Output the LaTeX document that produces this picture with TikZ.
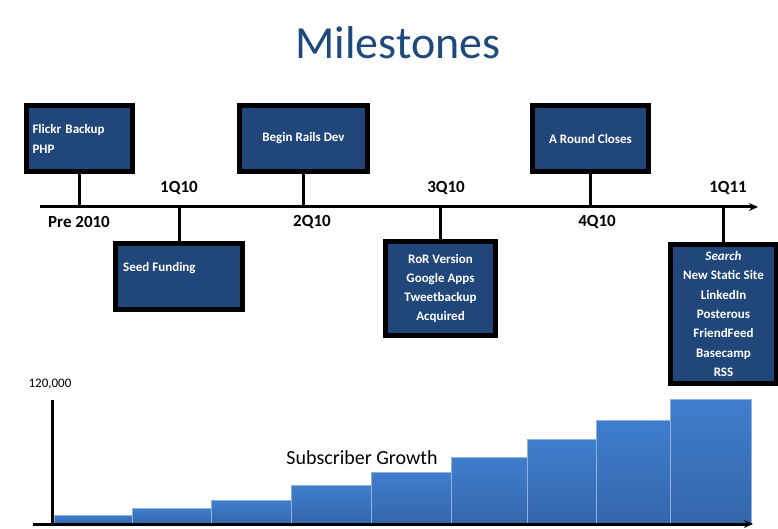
\documentclass[tikz,border=0pt]{standalone}
\usepackage{fontspec}
\setmainfont{Carlito}
\usetikzlibrary{arrows.meta}
\definecolor{navy}{RGB}{33,70,122}
\definecolor{titleblue}{RGB}{31,73,125}
\definecolor{bartop}{RGB}{64,126,204}
\definecolor{barbot}{RGB}{52,102,172}
\tikzset{
  mbox/.style={draw=black, line width=5pt, fill=navy, inner sep=0pt, text=white,
    font=\fontsize{13}{19.3}\selectfont\bfseries},
  stem/.style={line width=3pt},
  axisline/.style={line width=3pt},
  axisarrow/.style={line width=3pt, -{Stealth[length=9pt,width=8pt]}},
  qlabel/.style={font=\fontsize{17}{20}\selectfont\bfseries, inner sep=0pt},
  bar/.style={top color=bartop, bottom color=barbot, draw=bartop!60!white, line width=0.5pt}
}
\begin{document}
\begin{tikzpicture}[x=1pt,y=-1pt]
\useasboundingbox (0,0) rectangle (778,529);
\fill[white] (0,0) rectangle (778,529);

% title
\node[text=titleblue, font=\fontsize{46}{50}\selectfont, inner sep=0pt] (title) at (398,43) {Milestones};

% timeline
\coordinate (tl0) at (40,207);
\coordinate (tl1) at (758,207);
\draw[axisarrow] (tl0) -- (tl1);

% boxes above
\node[mbox, minimum width=106pt, minimum height=66pt, text width=94pt, inner xsep=6pt, align=left, font=\fontsize{13}{20}\selectfont\bfseries] (b1) at (79.5,138.5) {Flickr Backup\\PHP};
\node[mbox, minimum width=128pt, minimum height=66pt, align=center] (b2) at (303.5,138.5) {Begin Rails Dev};
\node[mbox, minimum width=116pt, minimum height=66pt, align=center] (b4) at (590.5,138.5) {A Round Closes};

% boxes below
\node[mbox, minimum width=127pt, minimum height=66pt] (b3) at (179,276.5) {};
\node[text=white, font=\fontsize{13}{16}\selectfont\bfseries, anchor=west, inner sep=0pt] (b3t) at (123,268) {Seed Funding};
\node[mbox, minimum width=110pt, minimum height=94pt, align=center] (b5) at (440.5,288.5) {RoR Version\\Google Apps\\Tweetbackup\\Acquired};
\node[mbox, minimum width=106pt, minimum height=139pt, align=center] (b6) at (723.5,314) {\textit{Search}\\New Static Site\\LinkedIn\\Posterous\\FriendFeed\\Basecamp\\RSS};

% stems
\draw[stem] (b1.south) -- (b1.south |- tl0);
\draw[stem] (b2.south) -- (b2.south |- tl0);
\draw[stem] (b4.south) -- (b4.south |- tl0);
\draw[stem] (b3.north) -- (b3.north |- tl0);
\draw[stem] (b5.north) -- (b5.north |- tl0);
\draw[stem] (b6.north) -- (b6.north |- tl0);

% quarter labels
\node[qlabel] (q0) at (79,222) {Pre 2010};
\node[qlabel] (q1) at (179,188) {1Q10};
\node[qlabel] (q2) at (312,222) {2Q10};
\node[qlabel] (q3) at (446,188) {3Q10};
\node[qlabel] (q4) at (597,222) {4Q10};
\node[qlabel] (q5) at (728,188) {1Q11};

% bars
\draw[bar] (54,515) rectangle (132,524);
\draw[bar] (132,508) rectangle (211,524);
\draw[bar] (211,500) rectangle (291,524);
\draw[bar] (291,485) rectangle (371,524);
\draw[bar] (371,472) rectangle (451,524);
\draw[bar] (451,457) rectangle (527,524);
\draw[bar] (527,439) rectangle (596,524);
\draw[bar] (596,420) rectangle (670,524);
\draw[bar] (670,399) rectangle (751,524);

% chart axes
\coordinate (ya0) at (52,400);
\coordinate (ya1) at (52,525.5);
\coordinate (xa0) at (33,524);
\coordinate (xa1) at (753,524);
\draw[axisline] (ya0) -- (ya1);
\draw[axisarrow] (xa0) -- (xa1);

\node[font=\fontsize{13}{15}\selectfont, inner sep=0pt] (ymax) at (50,384) {120,000};
\node[font=\fontsize{20}{24}\selectfont, inner sep=0pt] (growth) at (362,458) {Subscriber Growth};
\end{tikzpicture}
\end{document}
